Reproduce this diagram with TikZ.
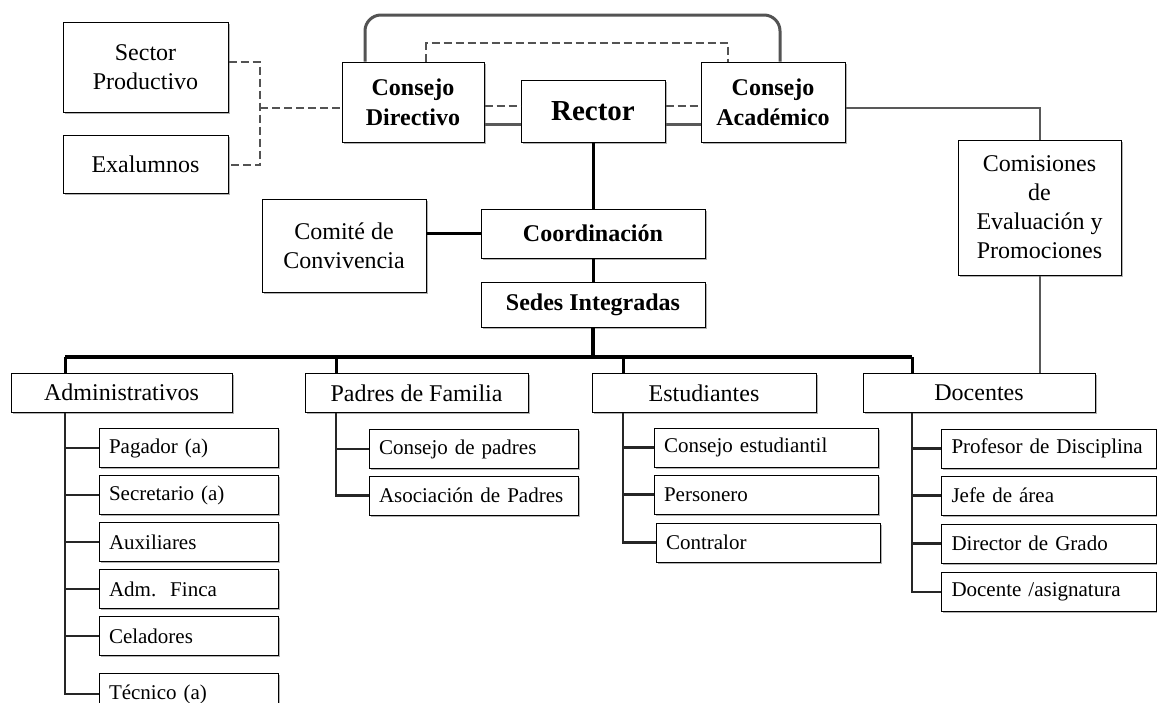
\documentclass[tikz,border=0pt]{standalone}
\usepackage{fontspec}
\setmainfont{Liberation Serif}
\usetikzlibrary{positioning,shadows}

\begin{document}
\begin{tikzpicture}[x=0.5pt, y=-0.5pt,
  orgbox/.style={draw=black, line width=0.5pt, fill=white, align=center, inner sep=2pt,
    general shadow={fill=gray!60, shadow xshift=0.9pt, shadow yshift=-0.9pt},
    font=\fontsize{12}{14.5}\selectfont},
  headbox/.style={orgbox, font=\fontsize{12}{15}\selectfont\bfseries},
  childbox/.style={orgbox, align=left, inner xsep=5pt, minimum height=19.5pt,
    font=\fontsize{10.5}{12}\selectfont},
  link/.style={line width=1.5pt, black},
  bus/.style={line width=2pt, black},
  spine/.style={line width=1.2pt, black!85},
  glink/.style={line width=1pt, gray!70!black},
  ring/.style={line width=1.5pt, gray!65!black, rounded corners=8pt},
  dlink/.style={line width=1pt, gray!65!black, dash pattern=on 4pt off 2pt}]

\useasboundingbox (0,0) rectangle (1157,702);

% Outside groups
\node[orgbox, minimum width=82.5pt, minimum height=45pt] (sector) at (145.5,67) {Sector\\Productivo};
\node[orgbox, minimum width=82.5pt, minimum height=29pt] (exal) at (145.5,164) {Exalumnos};

% Top level
\node[headbox, minimum width=71pt, minimum height=40pt] (cdir) at (413,102) {Consejo\\Directivo};
\node[headbox, font=\fontsize{14.5}{16}\selectfont\bfseries, minimum width=72pt, minimum height=31pt] (rector) at (593,111) {Rector};
\node[headbox, minimum width=72pt, minimum height=40pt] (cacad) at (773,102) {Consejo\\Académico};
\node[orgbox, minimum width=81.5pt, minimum height=67.5pt] (comis) at (1039.5,207.5) {Comisiones\\de\\Evaluación y\\Promociones};

% Middle
\node[orgbox, minimum width=82pt, minimum height=46.5pt] (comite) at (344,245.5) {Comité de\\Convivencia};
\node[headbox, minimum width=112pt, minimum height=24.5pt] (coord) at (593,233.5) {Coordinación};
\node[headbox, minimum width=112pt, minimum height=22.5pt] (sedes) at (593,304.5) {Sedes Integradas};

% Groups
\node[orgbox, minimum width=110.5pt, minimum height=19.5pt] (admin) at (121.5,392.5) {Administrativos};
\node[orgbox, minimum width=111.5pt, minimum height=19.5pt] (padres) at (416.5,393) {Padres de Familia};
\node[orgbox, minimum width=112pt, minimum height=19.5pt] (estud) at (704,393) {Estudiantes};
\node[orgbox, minimum width=116pt, minimum height=19.5pt] (docen) at (979,393) {Docentes};

% Administrativos
\node[childbox, text width=79.5pt] (pag) at (188.5,448) {Pagador (a)};
\node[childbox, text width=79.5pt] (secr) at (188.5,495) {Secretario (a)};
\node[childbox, text width=79.5pt] (aux) at (188.5,542) {Auxiliares};
\node[childbox, text width=79.5pt] (finca) at (188.5,589) {Adm.\ \ Finca};
\node[childbox, text width=79.5pt] (cela) at (188.5,636) {Celadores};
\node[childbox, text width=79.5pt, minimum height=21pt] (tecn) at (188.5,694) {Técnico (a)};

% Padres de Familia
\node[childbox, text width=94.5pt] (cpad) at (473.5,449) {Consejo de padres};
\node[childbox, text width=94.5pt] (asoc) at (473.5,495.5) {Asociación de Padres};

% Estudiantes
\node[childbox, text width=102pt] (cest) at (766,447.5) {Consejo estudiantil};
\node[childbox, text width=102pt] (pers) at (766,494.5) {Personero};
\node[childbox, text width=102pt] (contr) at (768,542.5) {Contralor};

% Docentes
\node[childbox, text width=97.5pt] (prof) at (1049,448.5) {Profesor de Disciplina};
\node[childbox, text width=97.5pt] (jefe) at (1049,495.5) {Jefe de área};
\node[childbox, text width=97.5pt] (dirg) at (1049,543.5) {Director de Grado};
\node[childbox, text width=97.5pt] (doca) at (1049,592) {Docente /asignatura};

% Helper points
\coordinate (ringL) at (365,15);
\coordinate (ringR) at (780,15);
\coordinate (dashL) at (426,43);
\coordinate (dashR) at (728,43);
\coordinate (upline) at (0,106);
\coordinate (lowline) at (0,124);
\coordinate (secj) at (260,62);
\coordinate (exj) at (260,165);
\coordinate (extj) at (260,108);
\coordinate (comj) at (1039.5,108);
\coordinate (busA) at (65,357);
\coordinate (busP) at (336,357);
\coordinate (busE) at (623,357);
\coordinate (busD) at (912,357);

% Top connections
\draw[ring] (cdir.north -| ringL) -- (ringL) -- (ringR) -- (cacad.north -| ringR);
\draw[dlink] (cdir.north -| dashL) -- (dashL) -- (dashR) -- (cacad.north -| dashR);
\draw[dlink] (cdir.east |- upline) -- (rector.west |- upline);
\draw[dlink] (rector.east |- upline) -- (cacad.west |- upline);
\draw[glink, line width=1.5pt] (cdir.east |- lowline) -- (rector.west |- lowline);
\draw[glink, line width=1.5pt] (rector.east |- lowline) -- (cacad.west |- lowline);

% Outside groups
\draw[dlink] (sector.east |- secj) -- (secj) -- (exj) -- (exal.east |- exj);
\draw[dlink] (extj) -- (cdir.west |- extj);

% Comisiones
\draw[glink] (cacad.east |- comj) -- (comj) -- (comis.north);
\draw[glink] (comis.south) -- (comis.south |- docen.north);

% Main line
\draw[link] (rector.south) -- (coord.north);
\draw[link] (comite.east |- coord.west) -- (coord.west);
\draw[link] (coord.south) -- (sedes.north);
\draw[bus] (sedes.south) -- (sedes.south |- busA);
\draw[bus] (busA) -- (busD);
\draw[link] (busA) -- (busA |- admin.north);
\draw[link] (busP) -- (busP |- padres.north);
\draw[link] (busE) -- (busE |- estud.north);
\draw[link] (busD) -- (busD |- docen.north);

% Branches
\draw[spine] (busA |- admin.south) |- (tecn.west);
\draw[spine] (busA |- pag.west) -- (pag.west);
\draw[spine] (busA |- secr.west) -- (secr.west);
\draw[spine] (busA |- aux.west) -- (aux.west);
\draw[spine] (busA |- finca.west) -- (finca.west);
\draw[spine] (busA |- cela.west) -- (cela.west);

\draw[spine] (busP |- padres.south) |- (asoc.west);
\draw[spine] (busP |- cpad.west) -- (cpad.west);

\draw[spine] (busE |- estud.south) |- (contr.west);
\draw[spine] (busE |- cest.west) -- (cest.west);
\draw[spine] (busE |- pers.west) -- (pers.west);

\draw[spine] (busD |- docen.south) |- (doca.west);
\draw[spine] (busD |- prof.west) -- (prof.west);
\draw[spine] (busD |- jefe.west) -- (jefe.west);
\draw[spine] (busD |- dirg.west) -- (dirg.west);

\end{tikzpicture}
\end{document}
